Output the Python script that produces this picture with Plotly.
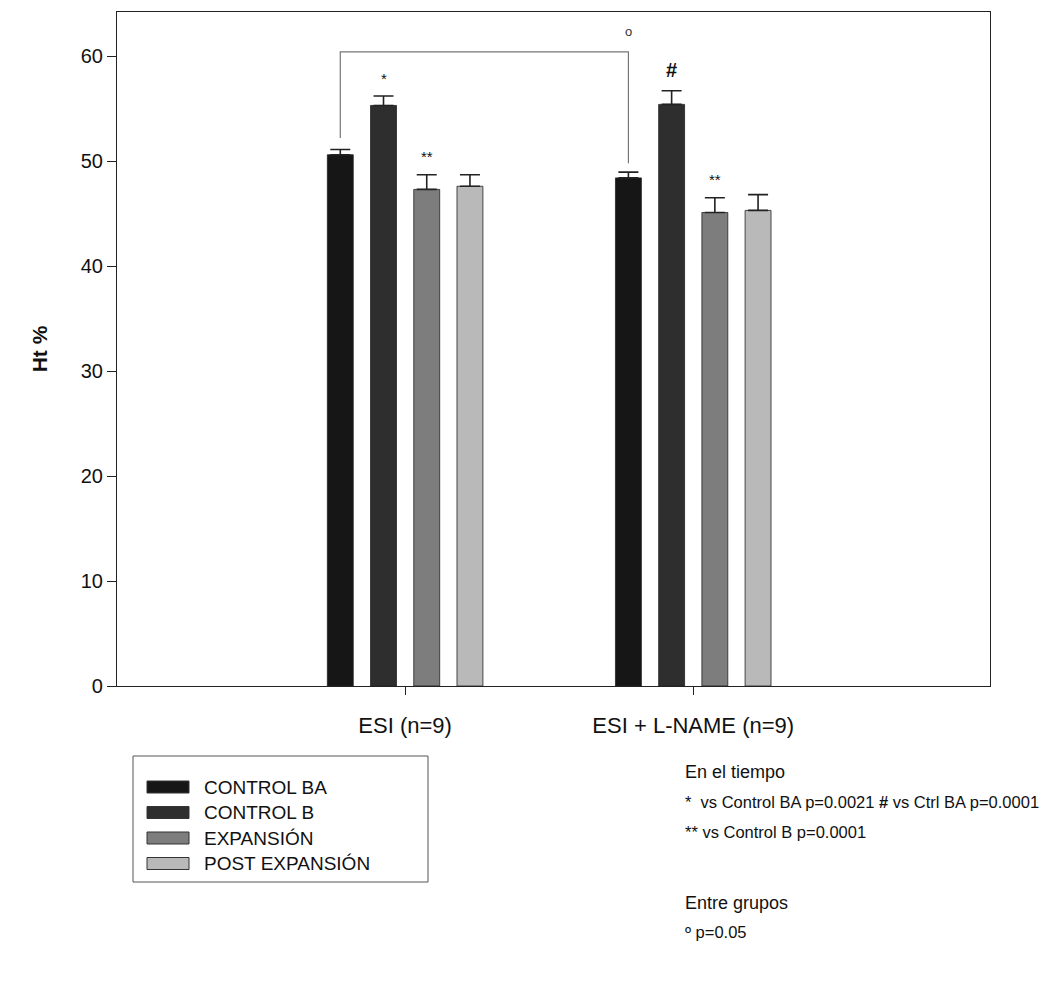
import plotly.graph_objects as go

groups = ["ESI (n=9)", "ESI + L-NAME (n=9)"]
series = ["CONTROL BA", "CONTROL B", "EXPANSIÓN", "POST EXPANSIÓN"]
values = {
    "CONTROL BA": [50.6, 48.4],
    "CONTROL B": [55.3, 55.4],
    "EXPANSIÓN": [47.3, 45.1],
    "POST EXPANSIÓN": [47.6, 45.3],
}
errors = {
    "CONTROL BA": [0.5, 0.55],
    "CONTROL B": [0.9, 1.3],
    "EXPANSIÓN": [1.4, 1.4],
    "POST EXPANSIÓN": [1.1, 1.5],
}
colors = ["#161616", "#2e2e2e", "#7d7d7d", "#b9b9b9"]
y_ticks = [0, 10, 20, 30, 40, 50, 60]

FONT = "Liberation Sans, Arial, sans-serif"
BARGAP = 0.4
SLOT = (1 - BARGAP) / len(series)

W, H = 1053, 983
L, R, T, B = 117, 63, 12, 297
PW, PH = W - L - R, H - T - B


def px(x):
    return (x - L) / PW


def py(y):
    return (H - B - y) / PH


fig = go.Figure()
for name, col in zip(series, colors):
    fig.add_trace(go.Bar(
        x=groups, y=values[name], name=name,
        marker=dict(color=col, line=dict(color="#222", width=0.8)),
        error_y=dict(type="data", array=errors[name], symmetric=False,
                     arrayminus=[0] * len(groups), color="#222",
                     thickness=1.6, width=10),
        showlegend=False,
    ))

# significance bracket between CONTROL BA bars
off1 = -1.5 * SLOT
fig.add_shape(type="path",
              path=f"M {0 + off1},52.2 L {0 + off1},60.4 L {1 + off1},60.4 L {1 + off1},49.8",
              line=dict(color="#777", width=1.2), xref="x", yref="y")
fig.add_annotation(x=1 + off1, y=61.4, text="o", showarrow=False,
                   font=dict(size=13, color="#333", family=FONT), yanchor="bottom")

# significance marks
marks = [(0, 1, "*", 15), (0, 2, "**", 15), (1, 1, "<b>#</b>", 20), (1, 2, "**", 15)]
for g, s, txt, sz in marks:
    nm = series[s]
    top = values[nm][g] + errors[nm][g]
    fig.add_annotation(x=g + (s - 1.5) * SLOT, y=top + 0.7, text=txt,
                       showarrow=False, yanchor="bottom",
                       font=dict(size=sz, color="#111", family=FONT))

# custom legend box
fig.add_shape(type="rect", xref="paper", yref="paper",
              x0=px(133), x1=px(428), y0=py(882), y1=py(756),
              line=dict(color="#555", width=1), fillcolor="white")
for i, (name, col) in enumerate(zip(series, colors)):
    yc = 787 + i * 25.5
    fig.add_shape(type="rect", xref="paper", yref="paper",
                  x0=px(147), x1=px(189), y0=py(yc + 6), y1=py(yc - 6),
                  line=dict(color="#333", width=1), fillcolor=col)
    fig.add_annotation(xref="paper", yref="paper", x=px(202), y=py(yc),
                       text=name, showarrow=False, xanchor="left", yanchor="middle",
                       font=dict(size=19, color="#111", family=FONT))

# notes
notes = [
    (772, "En el tiempo", 18),
    (802, "*  vs Control BA p=0.0021 <b>#</b> vs Ctrl BA p=0.0001", 16.5),
    (832, "** vs Control B p=0.0001", 16.5),
    (903, "Entre grupos", 18),
    (932, "º p=0.05", 16.5),
]
for yy, txt, sz in notes:
    fig.add_annotation(xref="paper", yref="paper", x=px(683), y=py(yy),
                       text=txt, showarrow=False, xanchor="left", yanchor="middle",
                       font=dict(size=sz, color="#111", family=FONT))

fig.update_layout(
    width=W, height=H,
    margin=dict(l=L, r=R, t=T, b=B),
    plot_bgcolor="white", paper_bgcolor="white",
    barmode="group", bargap=BARGAP, bargroupgap=0.4,
    font=dict(family=FONT, size=19, color="#111"),
    xaxis=dict(range=[-1.0, 2.03], showline=True, linecolor="#222", linewidth=1.2,
               mirror=True, ticks="outside", ticklen=8, tickcolor="#222",
               showgrid=False, tickfont=dict(size=22, color="#111"),
               ticklabelstandoff=11),
    yaxis=dict(range=[0, 64.2], tickvals=y_ticks, showline=True, linecolor="#222",
               linewidth=1.2, mirror=True, ticks="outside", ticklen=9,
               tickcolor="#222", showgrid=False, zeroline=False,
               tickfont=dict(size=20, color="#111"),
               title=dict(text="<b>Ht %</b>", font=dict(size=21), standoff=27)),
)

fig.write_html("out.html")
